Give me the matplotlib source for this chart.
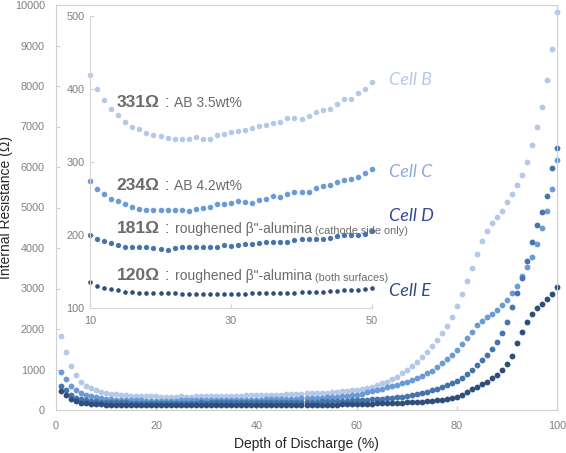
import numpy as np
import matplotlib
matplotlib.use('Agg')
import matplotlib.pyplot as plt

plt.rcParams['font.family'] = ['Liberation Sans', 'DejaVu Sans']

# depth of discharge (%) and internal resistance (ohm) per cell
dod = np.arange(1, 101)

cell_b = [1827, 1420, 1094, 864, 699, 600, 535, 494, 445,
          419, 400, 385, 372, 364, 355, 348, 345, 340, 337, 336, 333, 332, 331, 332, 334,
          332, 332, 337, 339, 341, 343, 344, 347, 350, 351, 354, 355, 360, 360, 359, 363,
          369, 371, 373, 379, 386, 386, 394, 400, 409,
          412, 418, 425, 432, 440, 450, 460, 472, 487, 505, 527,
          551, 575, 609, 659, 699, 757, 822, 905, 988, 1086, 1193, 1316, 1440, 1588, 1728,
          1893, 2074, 2304, 2568, 2857, 3185, 3498, 3840, 4165, 4425, 4605, 4755, 4925,
          5130, 5340, 5555, 5810, 6130, 6550, 6980, 7470, 8150, 8910, 9830]

cell_c = [946, 757, 593, 486, 412, 370, 337, 310, 288,
          274, 263, 256, 250, 246, 243, 238, 236, 234, 234, 234, 234, 234, 234, 233, 235,
          237, 238, 242, 243, 244, 246, 245, 244, 248, 250, 253, 252, 256, 259, 259, 259,
          264, 267, 269, 273, 276, 277, 280, 285, 290,
          295, 300, 306, 313, 321, 330, 340, 352, 366, 382, 405, 435, 465,
          494, 527, 560, 593, 617, 659, 691, 733, 782, 847, 905, 971, 1054, 1153, 1251,
          1358, 1481, 1640, 1780, 1934, 2090, 2205, 2304, 2380, 2465, 2585, 2716, 2881,
          3062, 3316, 3523, 3786, 4099, 4501, 4921, 5464, 6173]

cell_d = [600, 486, 370, 305, 263, 235, 220, 210, 204,
          200, 195, 192, 189, 186, 184, 184, 183, 183, 182, 181, 180, 182, 183, 183, 183,
          183, 183, 184, 186, 185, 186, 188, 188, 189, 190, 190, 190, 191, 193, 194, 194,
          194, 195, 196, 199, 200, 200, 200, 202, 206,
          207, 209, 212, 215, 218, 222, 226, 231, 236, 242, 249, 256, 264, 272, 281, 292,
          305, 318, 332, 346,
          370, 395, 420, 452, 486, 518, 560, 609, 659, 724, 798, 889, 988, 1111, 1235,
          1358, 1506, 1687, 1893, 2180, 2551, 2881, 3260, 3686, 4155, 4575, 4880, 5284,
          5967, 6461]

cell_e = [469, 362, 272, 214, 181, 165, 152, 144, 139,
          135, 130, 128, 126, 124, 122, 122, 121, 121, 120, 120, 120, 120, 119, 119, 119,
          119, 119, 119, 119, 119, 119, 119, 120, 120, 120, 120, 121, 121, 121, 122, 122,
          122, 122, 123, 123, 124, 124, 125, 126, 127,
          128, 129, 130, 131, 133, 135, 137, 140, 143, 146, 150, 154, 158, 162, 166, 170,
          175, 180, 185, 190, 195, 200, 207, 215, 225, 237, 252, 272, 296, 329, 380, 445,
          510, 576, 634, 699, 782, 864, 988, 1128, 1333, 1647, 1918, 2165, 2370, 2511,
          2617, 2733, 2864, 3029]

cell_names = ['Cell B', 'Cell C', 'Cell D', 'Cell E']
dot_colors = ['#b4c9e9', '#6a9bd6', '#4675ae', '#2f4f7a']
name_colors = ['#b7c8ec', '#8fa9e0', '#34489c', '#2f4e80']
name_y = [8150, 5880, 4790, 2950]

ohms = ['331', '234', '181', '120']
notes = ['AB 3.5wt%', 'AB 4.2wt%', 'roughened \u03b2"-alumina', 'roughened \u03b2"-alumina']
small_notes = [None, None, ' (cathode side only)', ' (both surfaces)']
note_y = [375, 261, 203, 139]

grey = '#808080'
txt = '#6b6b6b'
series = [cell_b, cell_c, cell_d, cell_e]

fig = plt.figure(figsize=(5.66, 4.53), dpi=100)

# main chart
ax = fig.add_axes([56 / 566, 1 - 410 / 453, 501 / 566, 405 / 453])
for vals, col in zip(series, dot_colors):
    ax.plot(dod, vals, 'o', ms=4.2, mew=0, color=col, clip_on=False)
ax.set_xlim(0, 100)
ax.set_ylim(0, 10000)
ax.set_xticks(range(0, 101, 20))
ax.set_yticks(range(0, 10001, 1000))
ax.tick_params(direction='in', length=3, color='#d0d0d0', labelcolor=grey,
               labelsize=7.8, pad=8)
for s in ax.spines.values():
    s.set_color('#cfcfcf')
ax.set_xlabel('Depth of Discharge (%)', fontsize=10, color='#262626', labelpad=4)
ax.set_ylabel('Internal Resistance (\u03a9)', fontsize=10, color='#262626', labelpad=1)

for name, col, y in zip(cell_names, name_colors, name_y):
    ax.text(66.4, y, name, fontsize=13, style='italic', color=col, va='center',
            family=['Lato', 'DejaVu Sans'])

# inset (10-50 %)
ins = fig.add_axes([90 / 566, 1 - 308 / 453, 282 / 566, 292 / 453])
ins.patch.set_alpha(0)
m = (dod >= 10) & (dod <= 50)
ins_ms = [4.0, 4.0, 3.8, 3.3]
for vals, col, ms in zip(series, dot_colors, ins_ms):
    ins.plot(dod[m], np.array(vals)[m], 'o', ms=ms, mew=0, color=col, clip_on=False)
ins.set_xlim(10, 50)
ins.set_ylim(100, 500)
ins.set_xticks([10, 30, 50])
ins.set_yticks(range(100, 501, 100))
ins.tick_params(direction='in', length=3, color='#d0d0d0', labelcolor=grey,
                labelsize=7.8, pad=4)
ins.tick_params(axis='x', pad=6)
for side in ['top', 'right']:
    ins.spines[side].set_visible(False)
for side in ['left', 'bottom']:
    ins.spines[side].set_color('#d6d6d6')


def note(axis, y, value, text, small):
    t = axis.text(13.8, y, value + '\u03a9', fontsize=12.5, fontweight='bold',
                  color=txt, va='baseline')
    c = axis.annotate(' : ', xy=(1, 0), xycoords=t, fontsize=12.5, color=txt,
                      va='bottom')
    r = axis.annotate(text, xy=(1, 0), xycoords=c, fontsize=10, color=txt,
                      va='bottom')
    if small:
        axis.annotate(small, xy=(1, 0), xycoords=r, fontsize=7.8, color=txt,
                      va='bottom')


for v, tx, sm, y in zip(ohms, notes, small_notes, note_y):
    note(ins, y, v, tx, sm)

fig.savefig('out.png', dpi=100)
